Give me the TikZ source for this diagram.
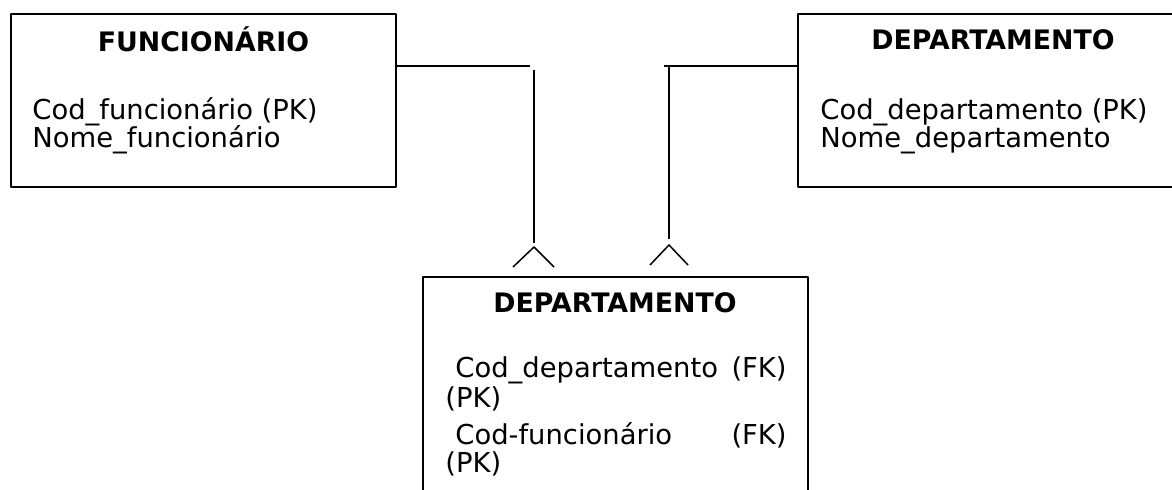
\documentclass[tikz,border=0pt]{standalone}
\usepackage{fontspec}
\setmainfont{DejaVu Sans}
\usepackage{tikz}
\usetikzlibrary{calc,positioning}
\tikzset{entity/.style={
            draw,
            line width=0.9pt,
            inner sep=0pt,
            minimum width=192.5pt
        },
        title/.style={
            inner sep=0pt,
            anchor=base,
            font=\fontsize{13.4}{14}\selectfont\bfseries
        },
        attr/.style={
            inner sep=0pt,
            anchor=base west,
            font=\fontsize{13.7}{14}\selectfont
        },
        link/.style={
            line width=1.2pt
        },
        drop/.style={
            line width=0.85pt
        },
        foot/.style={
            line width=0.75pt
        }
    }

\begin{document}
\begin{tikzpicture}[x=0.5pt,y=-0.5pt,line join=round]
\useasboundingbox (0,0) rectangle (1172,490);
\node[entity,minimum height=86.5pt] (func) at (203.5,100.5) {};
\node[entity,minimum width=191pt,minimum height=86.5pt] (dept) at (989,100.5) {};
\node[entity,minimum height=111.5pt] (lot) at (615.5,388.5) {};
\node[title] (funcT) at (203.5,52) {FUNCIONÁRIO};
\node[title] (deptT) at (993,50) {DEPARTAMENTO};
\node[title] (lotT) at (615,313) {DEPARTAMENTO};
\node[attr] (funcA) at (32,120) {Cod\_funcionário (PK)};
\node[attr] (funcB) at (32,148) {Nome\_funcionário};
\node[attr] (deptA) at (820,120) {Cod\_departamento (PK)};
\node[attr] (deptB) at (820,148) {Nome\_departamento};
\node[attr] (lotA) at (455,378) {Cod\_departamento};
\node[attr,anchor=base east] (lotAk) at (787,378) {(FK)};
\node[attr] (lotAp) at (445,408) {(PK)};
\node[attr] (lotB) at (455,445) {Cod-funcionário};
\node[attr,anchor=base east] (lotBk) at (787,445) {(FK)};
\node[attr] (lotBp) at (445,473) {(PK)};
\coordinate (fj) at (530,66);\coordinate (ft) at (534,70);\coordinate (fb) at (534,243);\coordinate (fa) at (534,247);
\coordinate (dj) at (664,66);\coordinate (dt) at (669,67);\coordinate (db) at (669,239);\coordinate (da) at (669,245);
\draw[link](func.east |- fj)--(fj);
\draw[drop](ft)--(fb);
\draw[foot]($(fa)+(-21,20)$)--(fa)--($(fa)+(20,20)$);
\draw[link](dj)--(dept.west |- dj);
\draw[drop](dt)--(db);
\draw[foot]($(da)+(-19,20)$)--(da)--($(da)+(19,20)$);
\end{tikzpicture}
\end{document}
